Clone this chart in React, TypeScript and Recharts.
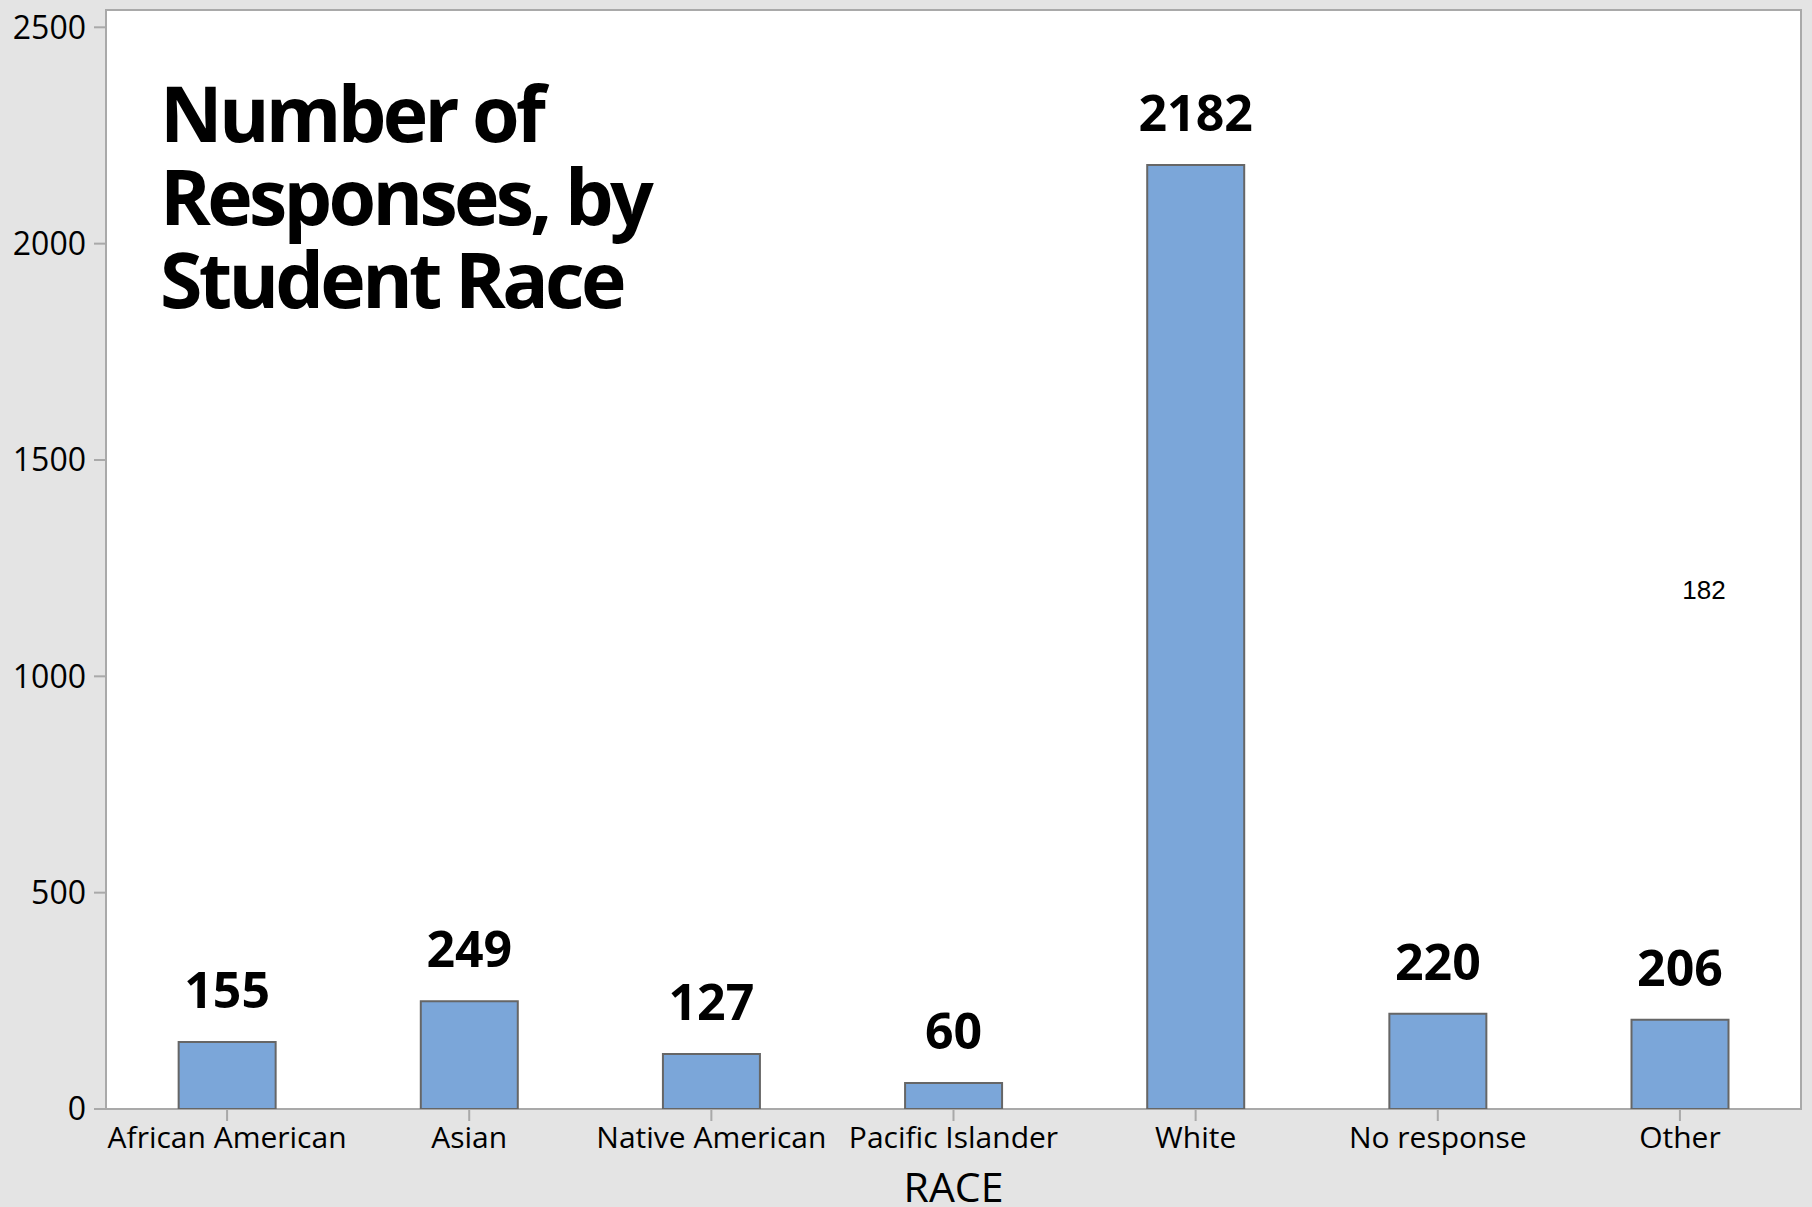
import React from "react";
import {
  BarChart,
  Bar,
  XAxis,
  YAxis,
  CartesianGrid,
  ReferenceArea,
  LabelList,
  Label,
} from "recharts";

const categories = [
  "African American",
  "Asian",
  "Native American",
  "Pacific Islander",
  "White",
  "No response",
  "Other",
];
const responses = [155, 249, 127, 60, 2182, 220, 206];
const yTicks = [0, 500, 1000, 1500, 2000, 2500];
const titleLines = ["Number of", "Responses, by", "Student Race"];
const strayNote = "182";
const xAxisTitle = "RACE";

const data = categories.map((race, i) => ({ race, count: responses[i] }));

const W = 1812;
const H = 1207;
const FONT = "'Open Sans', 'Noto Sans', sans-serif";
const FRAME = "#a9a9a9";

const ValueLabel = (props: any) => {
  const { x, y, width, value } = props;
  return (
    <text
      x={Number(x) + Number(width) / 2}
      y={Number(y) - 34}
      textAnchor="middle"
      fontFamily={FONT}
      fontWeight={700}
      fontSize={50}
      fill="#000"
    >
      {value}
    </text>
  );
};

export default function App() {
  return (
    <div
      style={{
        position: "absolute",
        left: 0,
        top: 0,
        width: W,
        height: H,
        background: "#e4e4e4",
        overflow: "hidden",
      }}
    >
      <BarChart
        width={W}
        height={H}
        data={data}
        margin={{ top: 10, right: 11, left: 0, bottom: 0 }}
        barCategoryGap="30%"
      >
        <CartesianGrid fill="#ffffff" horizontal={false} vertical={false} />
        <XAxis
          dataKey="race"
          height={98}
          axisLine={false}
          tickLine={{ stroke: FRAME, strokeWidth: 2 }}
          tickSize={12}
          tickMargin={6}
          interval={0}
          tick={{ fill: "#000", fontSize: 30, fontFamily: FONT }}
        >
          <Label
            value={xAxisTitle}
            position="insideBottom"
            offset={5}
            style={{ fill: "#000", fontSize: 41, fontFamily: FONT }}
          />
        </XAxis>
        <YAxis
          width={106}
          domain={[0, 2540]}
          ticks={yTicks}
          allowDataOverflow
          axisLine={false}
          tickLine={{ stroke: FRAME, strokeWidth: 2 }}
          tickSize={12}
          tickMargin={8}
          tick={{ fill: "#000", fontSize: 32, fontFamily: FONT }}
        />
        <Bar
          dataKey="count"
          fill="#7ba6d9"
          stroke="#666666"
          strokeWidth={2}
          isAnimationActive={false}
        >
          <LabelList dataKey="count" content={ValueLabel} />
        </Bar>
        <ReferenceArea
          y1={0}
          y2={2540}
          fill="none"
          fillOpacity={0}
          stroke={FRAME}
          strokeWidth={2}
          ifOverflow="visible"
        />
      </BarChart>
      <svg
        width={W}
        height={H}
        style={{ position: "absolute", left: 0, top: 0, pointerEvents: "none" }}
      >
        {titleLines.map((line, i) => (
          <text
            key={line}
            x={160}
            y={141.7 + i * 83.3}
            fontFamily={FONT}
            fontWeight={700}
            fontSize={77}
            letterSpacing={-3.7}
            fill="#000"
          >
            {line}
          </text>
        ))}
        <text
          x={1704}
          y={599}
          textAnchor="middle"
          fontFamily="'Liberation Sans', Arial, sans-serif"
          fontSize={26}
          fill="#000"
        >
          {strayNote}
        </text>
      </svg>
    </div>
  );
}
